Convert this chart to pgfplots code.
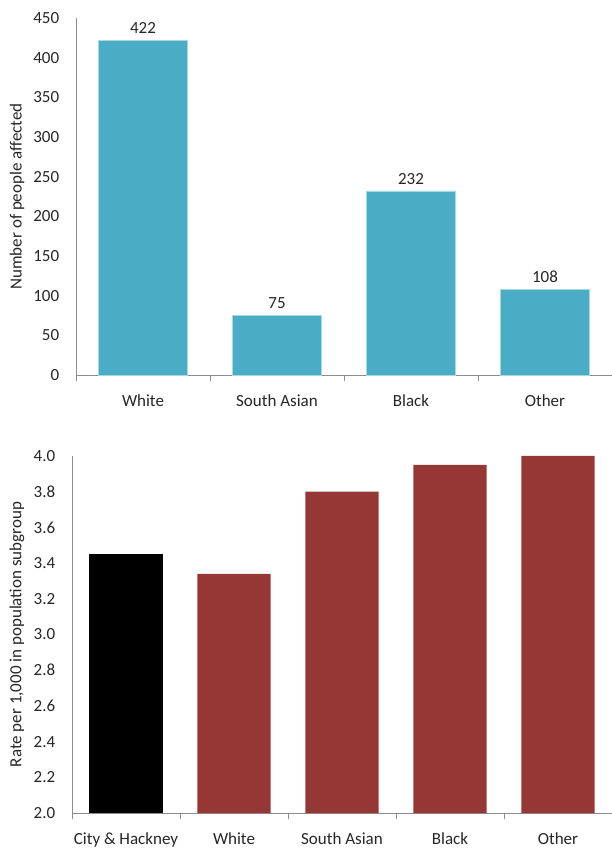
\documentclass[border=0pt]{standalone}
\usepackage{pgfplots}
\pgfplotsset{compat=1.18}
\usepackage{fontspec}
\setmainfont{Carlito}
\definecolor{barblue}{HTML}{4BACC6}
\definecolor{bardge}{HTML}{A9D8E5}
\definecolor{barred}{HTML}{953735}
\definecolor{axgray}{HTML}{8C8C8C}

\pgfplotsset{
  excelbars/.style={
    scale only axis,
    axis lines*=left,
    axis line style={axgray, line width=0.9pt},
    font=\fontsize{17}{20}\selectfont,
    ticklabel style={font=\fontsize{17}{20}\selectfont, text=black!85},
    label style={font=\fontsize{17}{20}\selectfont, text=black!85},
    /pgf/number format/assume math mode=true,
    ytick style={draw=none},
    major x tick style={draw=none},
    minor x tick style={axgray, line width=0.9pt},
    minor tick length=6pt,
    tick align=outside,
    ybar,
    yticklabel style={xshift=-9pt},
    xticklabel style={yshift=-12pt},
  }
}

\begin{document}
\begin{tikzpicture}[x=1pt,y=1pt]
\path[use as bounding box] (0,0) rectangle (612,854);

% Number of people affected, by ethnic group
\begin{axis}[
  excelbars,
  at={(76pt,479pt)}, anchor=south west,
  width=536pt, height=357pt,
  xmin=-0.5, xmax=3.5,
  ymin=0, ymax=450,
  ytick={0,50,100,150,200,250,300,350,400,450},
  xtick={0,1,2,3},
  xticklabels={White,South Asian,Black,Other},
  minor xtick={-0.5,0.5,1.5,2.5,3.5},
  bar width=89pt,
  clip=false,
  ylabel={Number of people affected},
  ylabel style={at={(axis description cs:-0.110,0.5)}, anchor=center},
  nodes near coords,
  every node near coord/.append style={font=\fontsize{17}{20}\selectfont, text=black!85, yshift=3pt},
]
\addplot[fill=barblue, draw=bardge, line width=0.8pt]
  coordinates {(0,422) (1,75) (2,232) (3,108)};
\end{axis}

% Rate per 1,000 in population subgroup
\begin{axis}[
  excelbars,
  at={(72pt,41pt)}, anchor=south west,
  width=540pt, height=357pt,
  xmin=-0.5, xmax=4.5,
  ymin=2, ymax=4,
  ytick={2.0,2.2,2.4,2.6,2.8,3.0,3.2,3.4,3.6,3.8,4.0},
  yticklabel={\pgfmathprintnumber[fixed,fixed zerofill,precision=1]{\tick}},
  xtick={0,1,2,3,4},
  xticklabels={City \& Hackney,White,South Asian,Black,Other},
  minor xtick={-0.5,0.5,1.5,2.5,3.5,4.5},
  bar width=73pt,
  ylabel={Rate per 1,000 in population subgroup},
  ylabel style={at={(axis description cs:-0.102,0.5)}, anchor=center},
]
\addplot[fill=black, draw=none, bar shift=0pt]
  coordinates {(0,3.45)};
\addplot[fill=barred, draw=none, bar shift=0pt]
  coordinates {(1,3.34) (2,3.80) (3,3.95) (4,4.00)};
\end{axis}
\end{tikzpicture}
\end{document}
